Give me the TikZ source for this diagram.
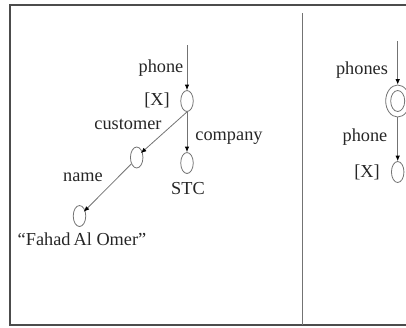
\documentclass[tikz,border=0pt]{standalone}
\usepackage{fontspec}
\setmainfont{Liberation Serif}
\usetikzlibrary{shapes.geometric,arrows.meta}
\begin{document}
\begin{tikzpicture}[x=1pt,y=-1pt,
  state/.style={ellipse,draw=black!55,line width=0.8pt,minimum width=12.5pt,minimum height=21pt,inner sep=0pt},
  outerstate/.style={ellipse,draw=black!55,line width=0.8pt,minimum width=24pt,minimum height=32pt,inner sep=0pt},
  innerstate/.style={ellipse,draw=black!55,line width=0.8pt,minimum width=14pt,minimum height=21pt,inner sep=0pt},
  edge/.style={draw=black!55,line width=0.8pt,-{Latex[length=5.5pt,width=4.5pt,color=black]}},
  lbl/.style={font=\fontsize{18.3}{20}\selectfont,text=black!85,inner sep=0pt},
  frame/.style={draw=black!70,line width=1.3pt}]
\useasboundingbox (0,0) rectangle (406,327);
% panel frame and divider
\draw[frame] (406,5) -- (10,5) -- (10,325) -- (406,325);
\draw[draw=black!55,line width=1pt] (302,13) -- (302,325);

% left graph
\coordinate (lin) at (187,45);
\node[state] (lx) at (187,101) {};
\node[state] (lc) at (136.7,157.5) {};
\node[state] (ls) at (187,163) {};
\node[state] (ln) at (79.5,216) {};
\draw[edge] (lin) -- (lx);
\draw[edge,shorten >=-2pt] (lx.south) -- (lc.45);
\draw[edge] (lx) -- (ls);
\draw[edge,shorten >=-2pt] (lc.230) -- (ln.45);
\node[lbl] (t1) at (161,68) {phone};
\node[lbl] (t2) at (157,100) {[X]};
\node[lbl] (t3) at (128,124) {customer};
\node[lbl] (t4) at (229,138) {company};
\node[lbl] (t5) at (188,189) {STC};
\node[lbl] (t6) at (83,177) {name};
\node[lbl] (t7) at (82,239) {“Fahad\hspace{-1.5pt} Al Omer”};

% right graph
\coordinate (rin) at (397.7,41);
\node[outerstate] (rp) at (397.7,101) {};
\node[innerstate] (rpi) at (397.7,101) {};
\node[state] (rx) at (397.7,172) {};
\draw[edge] (rin) -- (rp);
\draw[edge] (rp) -- (rx);
\node[lbl] (t8) at (362,70) {phones};
\node[lbl] (t9) at (365,137) {phone};
\node[lbl] (t10) at (367,172) {[X]};
\end{tikzpicture}
\end{document}
